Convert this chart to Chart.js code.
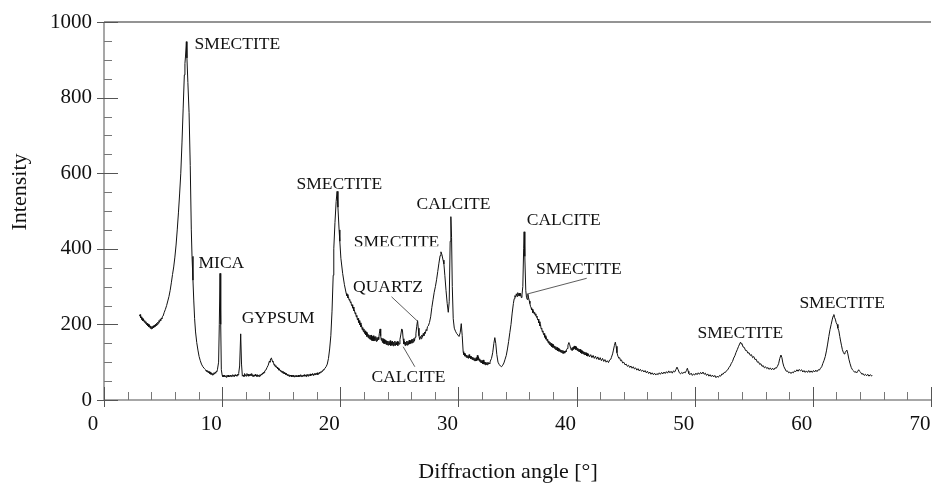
<!DOCTYPE html>
<html>
<head>
<meta charset="utf-8">
<script src="https://cdn.jsdelivr.net/npm/chart.js@4.4.1/dist/chart.umd.min.js"></script>
<style>
html,body{margin:0;padding:0;background:#fff;}
#c{display:block;}
</style>
</head>
<body>
<canvas id="c" width="932" height="488" style="width:932px;height:488px"></canvas>
<script>
// ---- data (diffraction angle in degrees, intensity) ----
const angles = [
3.0,3.05,3.1,3.15,3.2,3.25,3.3,3.35,3.4,3.45,
3.5,3.55,3.6,3.65,3.7,3.75,3.8,3.85,3.9,3.95,
4.0,4.05,4.1,4.15,4.2,4.25,4.3,4.35,4.4,4.45,
4.5,4.55,4.6,4.65,4.7,4.75,4.8,4.85,4.9,4.95,
5.0,5.1,5.2,5.3,5.4,5.5,5.6,5.7,5.8,5.9,
6.0,6.1,6.2,6.3,6.4,6.5,6.6,6.7,6.8,6.85,
6.9,6.97,7.02,7.1,7.2,7.3,7.39,7.45,7.53,7.6,
7.67,7.75,7.85,7.95,8.05,8.15,8.25,8.37,8.5,8.6,
8.65,8.7,8.75,8.8,8.85,8.9,8.95,9.0,9.05,9.1,
9.15,9.2,9.25,9.3,9.35,9.4,9.45,9.5,9.55,9.6,
9.7,9.76,9.82,9.88,9.93,10.0,10.05,10.1,10.15,10.2,
10.25,10.3,10.35,10.4,10.45,10.5,10.55,10.6,10.65,10.7,
10.75,10.8,10.85,10.9,10.95,11.0,11.05,11.1,11.15,11.2,
11.25,11.3,11.35,11.4,11.48,11.57,11.64,11.71,11.8,11.85,
11.9,11.95,12.0,12.05,12.1,12.15,12.2,12.25,12.3,12.35,
12.4,12.45,12.5,12.55,12.6,12.65,12.7,12.75,12.8,12.85,
12.9,12.95,13.0,13.05,13.1,13.15,13.2,13.25,13.3,13.35,
13.4,13.45,13.5,13.55,13.6,13.7,13.8,13.9,14.0,14.05,
14.1,14.17,14.25,14.3,14.35,14.4,14.45,14.5,14.55,14.6,
14.65,14.7,14.75,14.8,14.85,14.9,14.95,15.0,15.05,15.1,
15.15,15.2,15.25,15.3,15.35,15.4,15.45,15.5,15.55,15.6,
15.65,15.7,15.75,15.8,15.85,15.9,15.95,16.0,16.05,16.1,
16.15,16.2,16.25,16.3,16.35,16.4,16.45,16.5,16.55,16.6,
16.65,16.7,16.75,16.8,16.85,16.9,16.95,17.0,17.05,17.1,
17.15,17.2,17.25,17.3,17.35,17.4,17.45,17.5,17.55,17.6,
17.65,17.7,17.75,17.8,17.85,17.9,17.95,18.0,18.05,18.1,
18.15,18.2,18.25,18.3,18.35,18.4,18.45,18.5,18.55,18.6,
18.7,18.8,18.9,19.0,19.1,19.2,19.3,19.4,19.45,19.55,
19.65,19.73,19.8,19.9,19.96,20.05,20.2,20.35,20.5,20.55,
20.6,20.65,20.7,20.75,20.8,20.85,20.9,20.95,21.0,21.05,
21.1,21.15,21.2,21.25,21.3,21.35,21.4,21.45,21.5,21.55,
21.6,21.65,21.7,21.75,21.8,21.85,21.9,21.95,22.0,22.05,
22.1,22.15,22.2,22.25,22.3,22.35,22.4,22.45,22.5,22.55,
22.6,22.65,22.7,22.75,22.8,22.85,22.9,22.95,23.0,23.05,
23.1,23.15,23.2,23.25,23.3,23.37,23.42,23.47,23.52,23.57,
23.62,23.67,23.72,23.77,23.82,23.87,23.92,23.97,24.02,24.07,
24.12,24.17,24.22,24.27,24.32,24.37,24.42,24.47,24.52,24.57,
24.62,24.67,24.72,24.77,24.82,24.87,24.92,24.97,25.05,25.12,
25.2,25.26,25.32,25.38,25.43,25.48,25.53,25.58,25.63,25.68,
25.73,25.78,25.83,25.88,25.93,25.98,26.03,26.08,26.13,26.18,
26.23,26.28,26.33,26.4,26.47,26.54,26.6,26.66,26.72,26.78,
26.84,26.9,26.96,27.02,27.08,27.14,27.2,27.26,27.32,27.38,
27.45,27.55,27.65,27.75,27.85,27.95,28.05,28.15,28.25,28.35,
28.45,28.52,28.6,28.7,28.77,28.85,28.95,29.05,29.14,29.22,
29.3,29.36,29.42,29.48,29.56,29.65,29.75,29.85,29.95,30.05,
30.15,30.24,30.32,30.4,30.45,30.5,30.55,30.6,30.65,30.7,
30.75,30.8,30.85,30.9,30.95,31.0,31.05,31.1,31.15,31.2,
31.25,31.3,31.35,31.4,31.45,31.5,31.55,31.6,31.65,31.7,
31.75,31.8,31.85,31.9,31.95,32.0,32.05,32.1,32.15,32.2,
32.25,32.3,32.35,32.4,32.45,32.5,32.55,32.6,32.65,32.7,
32.8,32.9,33.0,33.08,33.16,33.25,33.35,33.45,33.55,33.65,
33.75,33.85,33.95,34.05,34.15,34.25,34.35,34.45,34.55,34.65,
34.72,34.78,34.84,34.9,34.96,35.02,35.08,35.14,35.2,35.26,
35.32,35.38,35.45,35.52,35.56,35.62,35.7,35.76,35.82,35.88,
35.94,36.0,36.05,36.1,36.15,36.2,36.25,36.3,36.35,36.4,
36.45,36.5,36.55,36.6,36.65,36.7,36.75,36.8,36.85,36.9,
36.95,37.0,37.05,37.1,37.15,37.2,37.25,37.3,37.35,37.4,
37.45,37.5,37.55,37.6,37.65,37.7,37.75,37.8,37.85,37.9,
37.95,38.0,38.05,38.1,38.15,38.2,38.25,38.3,38.35,38.4,
38.45,38.5,38.55,38.6,38.65,38.7,38.75,38.8,38.85,38.9,
38.95,39.0,39.05,39.1,39.15,39.2,39.27,39.35,39.42,39.5,
39.55,39.6,39.65,39.7,39.75,39.8,39.85,39.9,39.95,40.0,
40.05,40.1,40.15,40.2,40.25,40.3,40.35,40.4,40.45,40.5,
40.55,40.6,40.65,40.7,40.75,40.8,40.85,40.9,40.95,41.0,
41.1,41.2,41.3,41.4,41.5,41.6,41.7,41.8,41.9,42.0,
42.1,42.2,42.3,42.4,42.5,42.6,42.7,42.8,42.9,42.95,
43.05,43.12,43.2,43.28,43.35,43.42,43.5,43.58,43.65,43.72,
43.8,43.9,44.0,44.1,44.2,44.3,44.4,44.5,44.6,44.7,
44.8,44.9,45.0,45.1,45.2,45.3,45.4,45.5,45.6,45.7,
45.8,45.9,46.0,46.1,46.2,46.3,46.4,46.5,46.6,46.7,
46.8,46.9,47.0,47.1,47.2,47.3,47.4,47.5,47.6,47.7,
47.8,47.9,48.0,48.1,48.2,48.3,48.4,48.5,48.6,48.7,
48.8,48.9,49.0,49.1,49.2,49.3,49.38,49.45,49.5,49.6,
49.7,49.8,49.9,50.0,50.1,50.2,50.3,50.4,50.5,50.6,
50.7,50.8,50.9,51.0,51.1,51.2,51.3,51.4,51.5,51.6,
51.7,51.8,51.9,52.0,52.1,52.2,52.3,52.4,52.5,52.6,
52.7,52.8,52.9,53.0,53.1,53.2,53.3,53.4,53.5,53.6,
53.7,53.8,53.88,53.95,54.0,54.1,54.2,54.3,54.4,54.5,
54.6,54.7,54.8,54.9,55.0,55.1,55.2,55.3,55.4,55.5,
55.6,55.7,55.8,55.9,56.0,56.1,56.2,56.3,56.4,56.5,
56.6,56.7,56.8,56.9,57.0,57.1,57.2,57.3,57.38,57.46,
57.55,57.65,57.75,57.85,57.95,58.05,58.15,58.25,58.35,58.45,
58.55,58.65,58.75,58.85,58.95,59.05,59.15,59.25,59.35,59.45,
59.55,59.65,59.75,59.85,59.95,60.05,60.15,60.25,60.35,60.45,
60.55,60.65,60.75,60.85,60.95,61.05,61.15,61.25,61.35,61.45,
61.55,61.65,61.72,61.78,61.84,61.9,61.97,62.05,62.12,62.2,
62.28,62.35,62.42,62.5,62.58,62.65,62.72,62.8,62.88,62.95,
63.05,63.15,63.25,63.35,63.45,63.55,63.65,63.72,63.8,63.88,
63.95,64.05,64.15,64.25,64.35,64.45,64.55,64.65,64.75,64.85,
64.95,65.0
];
const intensity = [
222,226,217,220,213,216,209,214,206,210,
203,207,199,203,196,201,193,198,190,196,
188,194,189,196,191,198,193,200,196,203,
199,206,203,210,206,213,210,217,215,221,
222,232,240,250,262,274,290,310,332,352,
378,410,450,495,545,600,680,770,860,890,
910,948,905,840,760,620,450,380,317,262,
215,180,152,132,115,104,95,88,83,80,
76,79,74,77,72,75,70,73,68,71,
66,70,67,72,69,73,71,76,75,80,
100,200,335,200,80,66,62,65,61,66,
62,64,60,65,62,66,61,64,62,66,
62,65,63,67,63,66,62,67,64,66,
63,68,66,70,90,175,95,63,66,62,
70,64,67,63,70,65,68,63,67,64,
69,65,70,63,67,62,66,63,68,64,
66,62,67,63,66,62,67,64,68,66,
71,69,74,72,77,79,86,92,103,100,
109,111,103,100,99,92,94,88,91,86,
87,82,84,79,82,77,79,74,77,72,
76,70,73,69,71,67,70,65,68,64,
67,62,66,63,66,61,65,62,66,61,
64,62,66,61,64,62,66,61,65,63,
67,62,65,62,66,63,67,63,66,62,
67,64,68,63,67,65,69,64,68,66,
70,65,69,67,71,66,70,68,72,67,
71,70,74,72,75,74,77,76,80,79,
84,88,95,110,135,170,235,330,400,470,
525,552,510,450,420,375,335,305,282,276,
279,270,272,264,266,258,260,250,252,243,
246,236,238,228,231,220,224,212,216,205,
210,199,204,193,198,186,192,181,188,176,
183,172,180,168,176,165,173,162,171,160,
172,158,168,157,170,156,166,158,168,155,
165,157,166,160,175,188,170,158,164,152,
162,150,160,149,158,147,157,146,156,145,
155,146,157,144,154,145,156,143,153,145,
156,144,152,146,155,144,154,148,160,172,
188,185,162,148,155,144,153,146,156,145,
155,147,158,148,157,150,160,151,161,153,
163,156,166,175,195,210,190,170,160,168,
162,172,166,176,170,180,176,186,184,194,
196,205,220,245,265,285,300,318,340,362,
382,392,385,370,360,330,290,255,232,260,
420,485,430,300,215,190,182,176,172,168,
178,202,170,128,120,124,116,121,113,119,
112,117,110,120,112,116,109,115,107,113,
106,112,104,110,103,112,104,118,106,114,
103,109,100,106,98,104,96,106,95,101,
93,100,94,99,93,100,95,98,96,103,
110,125,150,165,150,120,100,94,90,88,
92,98,108,118,135,155,178,200,230,255,
268,276,272,281,274,284,276,283,275,282,
271,278,300,400,445,380,290,272,266,280,
270,262,255,248,244,238,240,231,236,228,
232,224,228,219,222,212,214,204,207,196,
199,188,190,180,183,173,176,166,170,161,
165,156,161,151,156,147,153,144,150,141,
148,139,146,137,143,134,141,132,139,130,
137,129,135,127,133,126,132,124,131,123,
129,124,130,127,133,136,145,152,146,136,
132,138,131,140,134,143,136,142,133,140,
131,137,129,135,127,134,125,131,123,130,
122,128,120,127,119,125,117,123,116,122,
114,120,112,118,110,116,108,114,106,112,
104,110,102,107,100,104,99,106,108,113,
122,132,144,153,142,125,116,110,112,104,
106,98,100,93,95,89,92,86,90,84,
88,82,85,79,83,77,81,76,79,74,
78,72,76,70,74,68,72,67,71,66,
70,67,72,68,73,69,74,70,75,71,
77,72,76,71,77,74,80,87,80,72,
69,73,70,74,72,78,84,76,70,67,
71,65,69,66,71,67,72,68,73,69,
74,68,71,65,69,63,67,62,66,61,
65,59,63,60,65,63,69,68,73,73,
78,80,86,90,97,102,111,117,126,133,
141,148,153,148,149,140,139,131,131,124,
125,118,120,112,115,107,108,100,101,94,
96,89,91,85,88,83,86,81,85,80,
84,80,85,84,89,96,110,119,112,98,
88,82,76,77,72,74,70,74,72,77,
75,80,76,81,77,80,74,78,73,77,
73,78,73,77,73,78,74,79,75,80,
79,84,88,97,105,115,130,148,168,186,
200,214,222,226,218,214,205,200,190,183,
168,156,145,133,126,122,126,128,132,124,
108,96,86,80,77,73,75,72,76,80,
76,73,68,70,65,68,64,68,63,67,
64,66
];
const xTickLabels = ['0','10','20','30','40','50','60','70'];
const yTickLabels = ['0','200','400','600','800','1000'];
const peakLabels = ['SMECTITE','MICA','GYPSUM','SMECTITE','SMECTITE','QUARTZ','CALCITE','CALCITE','CALCITE','SMECTITE','SMECTITE','SMECTITE'];
// anchor of each label in data units (angle, intensity)
const peakLabelAngle = [7.67,8.0,11.65,16.3,21.14,21.08,22.64,26.46,35.78,36.57,50.24,58.86];
const peakLabelIntensity = [942,362,217,571,418,298,59.5,518.5,475,345,177,255];
const xTitle = 'Diffraction angle [°]';
const yTitle = 'Intensity';

// leader lines (data units): [x1,y1,x2,y2]
const leaders = [
  [24.34,273,26.59,207],
  [25.32,141,26.31,88],
  [40.86,322,35.78,280]
];

const FONT = '"Liberation Serif","Times New Roman",serif';
const nPts = Math.min(angles.length, intensity.length);
if (angles.length !== intensity.length) console.error('length mismatch', angles.length, intensity.length);

const decor = {
  id:'decor',
  afterDraw(chart){
    const ctx = chart.ctx, xs = chart.scales.x, ys = chart.scales.y;
    const x0 = xs.getPixelForValue(0), y0 = ys.getPixelForValue(0);
    const yTop = ys.getPixelForValue(1000), xEnd = xs.getPixelForValue(70);
    ctx.save();
    ctx.strokeStyle = '#8a8a8a'; ctx.lineWidth = 1.5;
    ctx.beginPath();
    ctx.moveTo(x0, y0); ctx.lineTo(xEnd, y0);
    ctx.moveTo(x0, y0); ctx.lineTo(x0, yTop);
    ctx.stroke();
    ctx.strokeStyle = '#707070'; ctx.lineWidth = 1.5;
    ctx.beginPath(); ctx.moveTo(x0, yTop); ctx.lineTo(xEnd, yTop); ctx.stroke();
    ctx.lineWidth = 1;
    for (let v = 0; v <= 70; v += 2) {
      const p = Math.round(xs.getPixelForValue(v)) + 0.5;
      ctx.beginPath();
      if (v % 10 === 0) { ctx.strokeStyle = '#555'; ctx.moveTo(p, y0 - 13); ctx.lineTo(p, y0 + 7); }
      else { ctx.strokeStyle = '#777'; ctx.moveTo(p, y0 - 8); ctx.lineTo(p, y0); }
      ctx.stroke();
    }
    for (let v = 0; v <= 1000; v += 50) {
      const p = Math.round(ys.getPixelForValue(v)) + 0.5;
      ctx.beginPath();
      if (v % 200 === 0) { ctx.strokeStyle = '#555'; ctx.moveTo(x0 - 7, p); ctx.lineTo(x0 + 14, p); }
      else { ctx.strokeStyle = '#777'; ctx.moveTo(x0, p); ctx.lineTo(x0 + 8, p); }
      ctx.stroke();
    }
    ctx.fillStyle = '#111';
    ctx.font = '22px ' + FONT;
    ctx.textAlign = 'center'; ctx.textBaseline = 'middle';
    ctx.fillText(xTitle, 508, 472);
    ctx.save();
    ctx.translate(20, 192); ctx.rotate(-Math.PI/2);
    ctx.fillText(yTitle, 0, 0);
    ctx.restore();
    ctx.font = '17.5px ' + FONT;
    ctx.textAlign = 'left'; ctx.textBaseline = 'middle';
    for (let i = 0; i < peakLabels.length; i++) {
      const px = xs.getPixelForValue(peakLabelAngle[i]);
      const py = ys.getPixelForValue(peakLabelIntensity[i]);
      if (i === 4) {
        ctx.save();
        ctx.beginPath(); ctx.rect(0, 0, chart.width, ys.getPixelForValue(407)); ctx.clip();
        ctx.fillText(peakLabels[i], px, py);
        ctx.restore();
      } else {
        ctx.fillText(peakLabels[i], px, py);
      }
    }
    ctx.strokeStyle = '#333'; ctx.lineWidth = 0.8;
    for (const l of leaders) {
      ctx.beginPath();
      ctx.moveTo(xs.getPixelForValue(l[0]), ys.getPixelForValue(l[1]));
      ctx.lineTo(xs.getPixelForValue(l[2]), ys.getPixelForValue(l[3]));
      ctx.stroke();
    }
    ctx.restore();
  }
};

const points = [];
for (let i = 0; i < nPts; i++) points.push({x: angles[i], y: intensity[i]});

new Chart(document.getElementById('c'), {
  type: 'line',
  data: {
    datasets: [{
      data: points,
      borderColor: '#111',
      borderWidth: 1,
      pointRadius: 0,
      tension: 0,
      fill: false
    }]
  },
  options: {
    responsive: false,
    animation: false,
    devicePixelRatio: 1,
    layout: {padding: {top: 22, right: 1, left: 0, bottom: 0}},
    plugins: {legend: {display: false}, tooltip: {enabled: false}},
    scales: {
      x: {
        type: 'linear', min: 0, max: 70,
        afterFit(s){ s.height = 88; s.paddingLeft = 0; s.paddingRight = 0; },
        grid: {display: false, drawTicks: false},
        border: {display: false},
        ticks: {
          stepSize: 10, autoSkip: false, maxRotation: 0, labelOffset: -11, padding: 12,
          color: '#111', font: {family: FONT, size: 21},
          callback: (v) => xTickLabels[v / 10]
        }
      },
      y: {
        type: 'linear', min: 0, max: 1000,
        afterFit(s){ s.width = 104; s.paddingTop = 0; s.paddingBottom = 0; },
        grid: {display: false, drawTicks: false},
        border: {display: false},
        ticks: {
          stepSize: 200, autoSkip: false, padding: 12,
          color: '#111', font: {family: FONT, size: 21},
          callback: (v) => yTickLabels[v / 200]
        }
      }
    }
  },
  plugins: [decor]
});
</script>
</body>
</html>
